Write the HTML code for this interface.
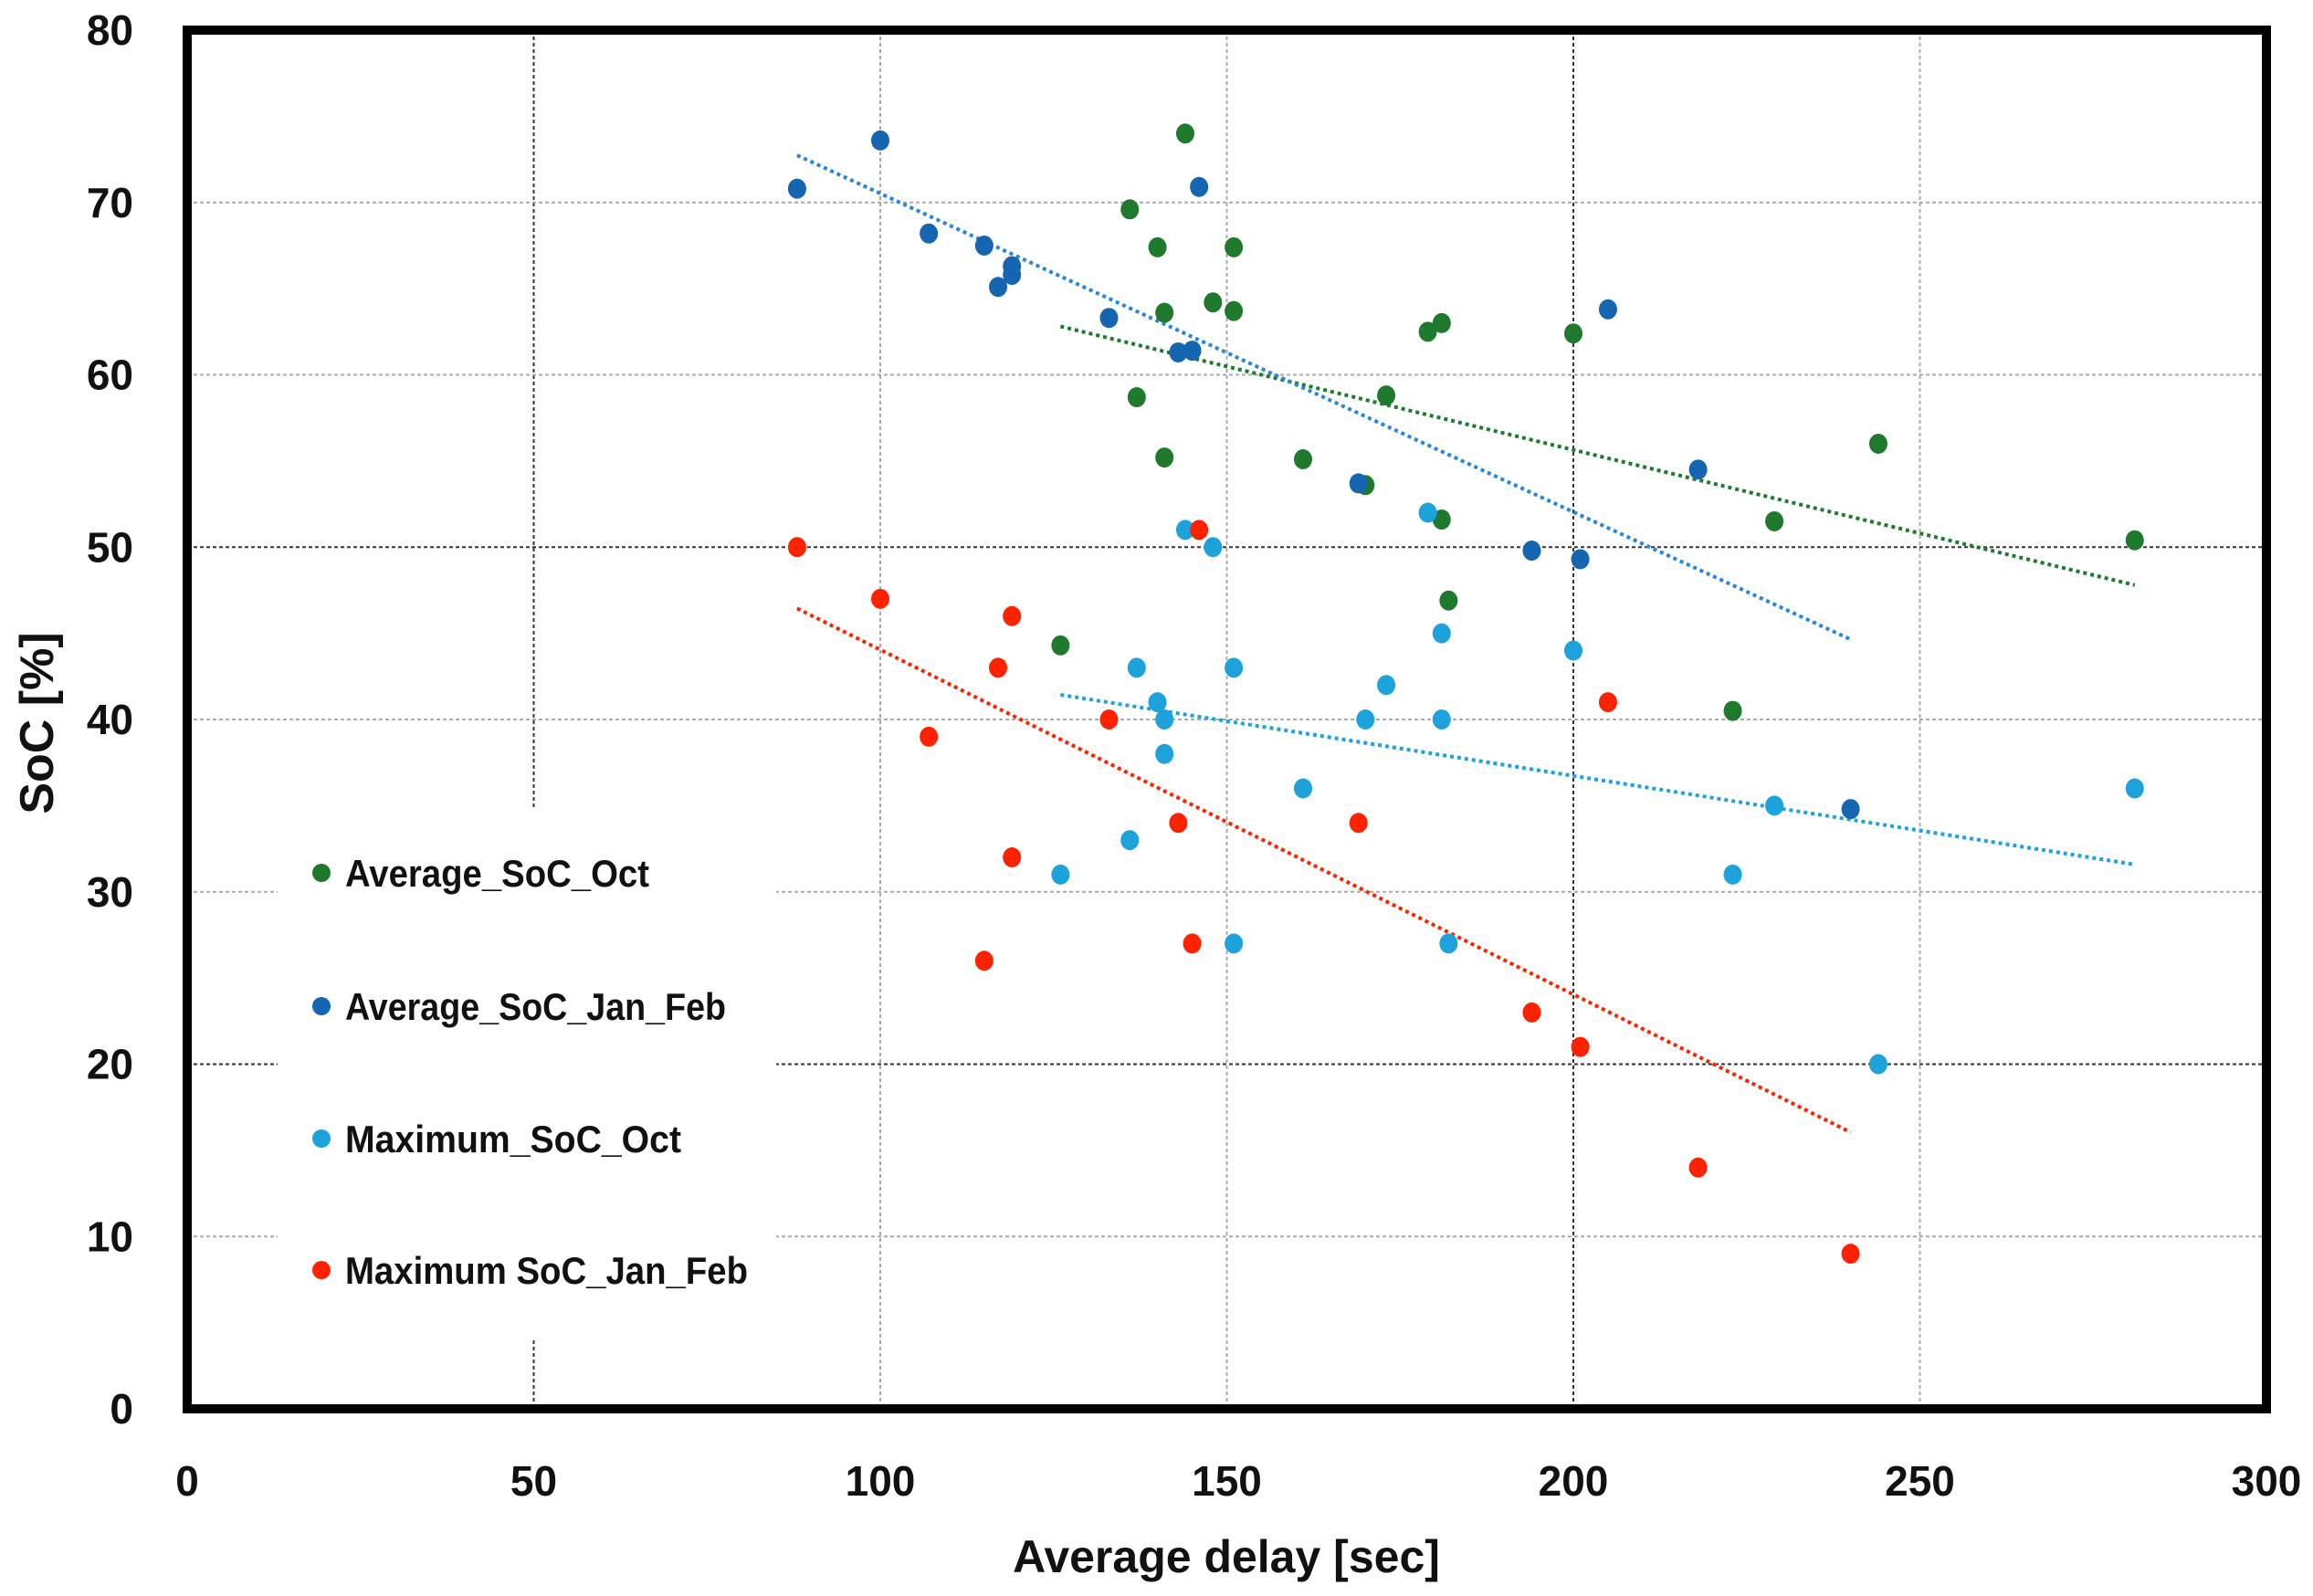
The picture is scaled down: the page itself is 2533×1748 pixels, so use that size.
<!DOCTYPE html>
<html><head><meta charset="utf-8"><style>
html,body{margin:0;padding:0;background:#fff;}
svg{display:block;font-family:"Liberation Sans",Arial,sans-serif;}
</style></head><body>
<svg id="chart" width="2533" height="1748" viewBox="0 0 2533 1748" xmlns="http://www.w3.org/2000/svg"></svg>
<script>
const xTicks=[0,50,100,150,200,250,300];
const yTicks=[0,10,20,30,40,50,60,70,80];
const avgOctX=[144,136,140,151,141,148,151,137,141,161,170,173,179,181,181,182,200,126,223,229,244,281];
const avgOctY=[74,69.6,67.4,67.4,63.6,64.2,63.7,58.7,55.2,55.1,53.6,58.8,62.5,63,51.6,46.9,62.4,44.3,40.5,51.5,56,50.4];
const avgJanX=[88,100,107,115,117,119,119,133,143,145,146,169,194,201,205,218,240];
const avgJanY=[70.8,73.6,68.2,67.5,65.1,66.3,65.8,63.3,61.3,61.4,70.9,53.7,49.8,49.3,63.8,54.5,34.8];
const maxOctX=[144,148,137,140,141,141,151,136,126,151,161,170,173,179,181,181,182,200,223,229,244,281];
const maxOctY=[51,50,43,41,40,38,43,33,31,27,36,40,42,52,45,40,27,44,31,35,20,36];
const maxJanX=[88,100,107,115,117,119,119,133,143,145,146,169,194,201,205,218,240];
const maxJanY=[50,47,39,26,43,46,32,40,34,27,51,34,23,21,41,14,9];
const seriesNames=["Average_SoC_Oct","Average_SoC_Jan_Feb","Maximum_SoC_Oct","Maximum SoC_Jan_Feb"];
const seriesColors=["#1f7a2e","#1565b0","#1ea2dc","#ff2200"];

const svg=document.getElementById('chart');
const NS='http://www.w3.org/2000/svg';
const L=205,R=2482,T=33,B=1543;
const sx=v=>L+(v-0)/(300-0)*(R-L);
const sy=v=>B-(v-0)/(80-0)*(B-T);
function mk(tag,attrs,parent){const e=document.createElementNS(NS,tag);for(const k in attrs)e.setAttribute(k,attrs[k]);(parent||svg).appendChild(e);return e;}

const grid=mk('g',{});


xTicks.slice(1,-1).forEach(v=>{
  const dark=(v===50||v===200);
  const l=mk('line',{x1:sx(v),x2:sx(v),y1:T,y2:B,stroke:dark?'#333':'#aaa','stroke-width':2,'stroke-dasharray':'4,3'},grid);
  
  
});
yTicks.slice(1,-1).forEach(v=>{
  const dark=(v===50||v===20);
  const l=mk('line',{x1:L,x2:R,y1:sy(v),y2:sy(v),stroke:dark?'#333':'#aaa','stroke-width':2,'stroke-dasharray':'4,3'},grid);
  
  
});

const lb=mk('rect',{x:304,y:885,width:546,height:582,fill:'#fff'});



xTicks.forEach(v=>{
  const t=mk('text',{x:sx(v),y:1638,'text-anchor':'middle','font-size':46,'font-weight':'bold',fill:'#111'});
  t.textContent=v;
  
  
});
yTicks.forEach(v=>{
  const t=mk('text',{x:146,y:sy(v)+16,'text-anchor':'end','font-size':46,'font-weight':'bold',fill:'#111'});
  t.textContent=v;
  
  
});

const xt=mk('text',{x:1343,y:1722,'text-anchor':'middle','font-size':50,'font-weight':'bold',fill:'#111'});
xt.textContent='Average delay [sec]';


const yt=mk('text',{x:0,y:0,'text-anchor':'middle','font-size':52,'font-weight':'bold',fill:'#111',transform:'translate(58,792) rotate(-90)'});
yt.textContent='SoC [%]';



function trend(xs,ys,color,name){
  const n=xs.length;let mx=0,my=0;for(let i=0;i<n;i++){mx+=xs[i];my+=ys[i];}mx/=n;my/=n;
  let num=0,den=0;for(let i=0;i<n;i++){num+=(xs[i]-mx)*(ys[i]-my);den+=(xs[i]-mx)**2;}
  const b=num/den,a=my-b*mx;const x0=Math.min(...xs),x1=Math.max(...xs);
  const l=mk('line',{x1:sx(x0),y1:sy(a+b*x0),x2:sx(x1),y2:sy(a+b*x1),stroke:color,'stroke-width':4,'stroke-dasharray':'4,4'});
  
  
}
trend(avgOctX,avgOctY,seriesColors[0],'trendline-avg-oct');
trend(avgJanX,avgJanY,'#2a86d6','trendline-avg-jan-feb');
trend(maxOctX,maxOctY,seriesColors[2],'trendline-max-oct');
trend(maxJanX,maxJanY,seriesColors[3],'trendline-max-jan-feb');

function pts(xs,ys,color,name){
  const g=mk('g',{});
  
  
  xs.forEach((x,i)=>{
    const c=mk('ellipse',{cx:sx(x),cy:sy(ys[i]),rx:10,ry:11,fill:color},g);
    
    
  });
}
pts(avgOctX,avgOctY,seriesColors[0],'series-avg-oct');
pts(avgJanX,avgJanY,seriesColors[1],'series-avg-jan-feb');
pts(maxOctX,maxOctY,seriesColors[2],'series-max-oct');
pts(maxJanX,maxJanY,seriesColors[3],'series-max-jan-feb');

const legY=[956,1102,1247,1391];
const legW=[333,417,368,441];
seriesNames.forEach((nm,i)=>{
  const g=mk('g',{});
  
  
  mk('circle',{cx:352,cy:legY[i],r:10,fill:seriesColors[i]},g);
  const t=mk('text',{x:378,y:legY[i]+15,'font-size':42,'font-weight':'bold',fill:'#111',textLength:legW[i],lengthAdjust:'spacingAndGlyphs'},g);
  t.textContent=nm;
});

const fr=mk('rect',{x:L,y:T,width:R-L,height:B-T,fill:'none',stroke:'#000','stroke-width':10});


</script>
</body></html>
